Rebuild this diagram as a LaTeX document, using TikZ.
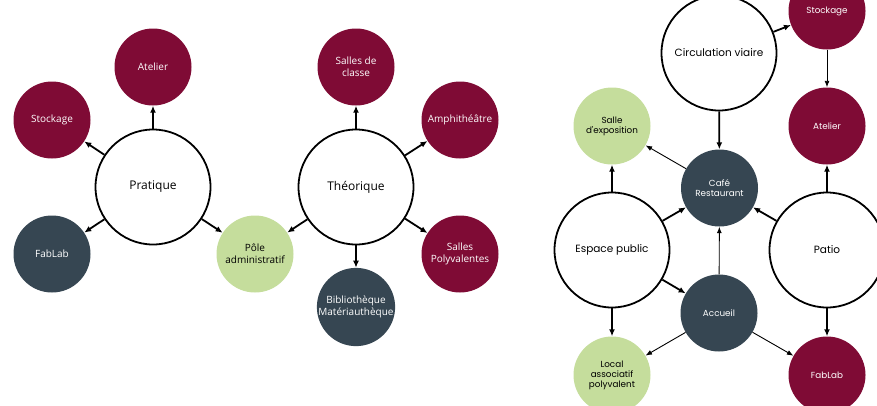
\documentclass[tikz,border=0pt]{standalone}
\usepackage{fontspec}
\setmainfont{Open Sans}
\newfontfamily\geofont{Poppins}
\usetikzlibrary{arrows.meta}
\definecolor{bordeaux}{HTML}{7F0B35}
\definecolor{ardoise}{HTML}{364652}
\definecolor{tilleul}{HTML}{C5DD9C}
\begin{document}
\begin{tikzpicture}[x=1pt, y=-1pt,
    pole/.style={circle, draw=black, line width=1.8pt, fill=white, minimum size=115pt, inner sep=0pt, font=\fontsize{12}{14}\selectfont},
    espace/.style={circle, minimum size=77pt, inner sep=0pt, align=center, text=white, font=\fontsize{10}{12}\selectfont},
    rouge/.style={espace, fill=bordeaux},
    gris/.style={espace, fill=ardoise},
    vert/.style={espace, fill=tilleul, text=black},
    geo/.style={font=\geofont\fontsize{8.8}{10}\selectfont},
    geopole/.style={font=\geofont\fontsize{10.5}{12}\selectfont},
    fort/.style={-{Latex[length=7pt,width=6pt]}, line width=1.8pt},
    fin/.style={-{Latex[length=6.5pt,width=5pt]}, line width=0.9pt}]
    \useasboundingbox (0,0) rectangle (877,405);

    \node[pole] (pratique) at (153,187) {Pratique};
    \node[pole] (theorique) at (356,187) {Théorique};
    \node[rouge] (atelier) at (153,67) {Atelier};
    \node[rouge] (stockage) at (52,120) {Stockage};
    \node[gris] (fablab) at (52,254) {FabLab};
    \node[vert] (admin) at (255,254) {Pôle\\administratif};
    \node[rouge] (classe) at (356,67) {Salles de\\classe};
    \node[rouge] (amphi) at (460,120) {Amphithéâtre};
    \node[rouge] (polyv) at (460,254) {Salles\\Polyvalentes};
    \node[gris] (biblio) at (356,307) {Bibliothèque\\Matériauthèque};
    \draw[fort] (pratique) -- (atelier);
    \draw[fort] (pratique) -- (stockage);
    \draw[fort] (pratique) -- (fablab);
    \draw[fort] (pratique) -- (admin);
    \draw[fort] (theorique) -- (admin);
    \draw[fort] (theorique) -- (classe);
    \draw[fort] (theorique) -- (amphi);
    \draw[fort] (theorique) -- (polyv);
    \draw[fort] (theorique) -- (biblio);

    \node[pole, geopole] (circulation) at (719,53) {Circulation viaire};
    \node[pole, geopole] (public) at (612,250) {Espace public};
    \node[pole, geopole] (patio) at (827,250) {Patio};
    \node[rouge, geo] (stockageb) at (827,11) {Stockage};
    \node[rouge, geo] (atelierb) at (827,126) {Atelier};
    \node[vert, geo] (expo) at (612,126) {Salle\\d'exposition};
    \node[gris, geo] (cafe) at (719.5,188) {Café\\Restaurant};
    \node[gris, geo] (accueil) at (719,313) {Accueil};
    \node[vert, geo] (local) at (612,375) {Local\\associatif\\polyvalent};
    \node[rouge, geo] (fablabb) at (827,375) {FabLab};
    \draw[fort] (circulation) -- (stockageb);
    \draw[fin] (stockageb) -- (atelierb);
    \draw[fort] (circulation) -- (cafe);
    \draw[fin] (cafe) -- (expo);
    \draw[fort] (public) -- (expo);
    \draw[fort] (public) -- (cafe);
    \draw[fort] (patio) -- (cafe);
    \draw[fort] (patio) -- (atelierb);
    \draw[fin] (accueil) -- (cafe);
    \draw[fort] (public) -- (accueil);
    \draw[fort] (public) -- (local);
    \draw[fin] (accueil) -- (local);
    \draw[fin] (accueil) -- (fablabb);
    \draw[fort] (patio) -- (fablabb);
\end{tikzpicture}
\end{document}
